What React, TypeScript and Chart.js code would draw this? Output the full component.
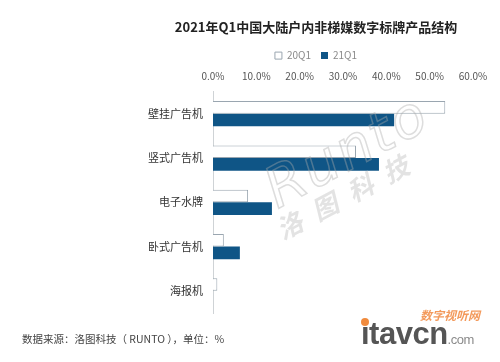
import React, { useEffect, useRef } from "react";
import { Chart, registerables } from "chart.js";

Chart.register(...registerables);

const TITLE = "2021年Q1中国大陆户内非梯媒数字标牌产品结构";
const CATEGORIES = ["壁挂广告机", "竖式广告机", "电子水牌", "卧式广告机", "海报机"];
const SERIES_NAMES = ["20Q1", "21Q1"];
const VALUES_20Q1 = [53.6, 33.0, 8.1, 2.5, 1.0];
const VALUES_21Q1 = [41.8, 38.3, 13.6, 6.2, 0.0];
const X_MIN = 0;
const X_MAX = 60;
const X_STEP = 10;
const SOURCE = "数据来源：洛图科技（ RUNTO ），单位：%";

const FONT = '"Noto Sans CJK SC", "Noto Sans", sans-serif';

const shiftHeader = {
  id: "shiftHeader",
  afterLayout(chart: any) {
    const dx = 6;
    [chart.titleBlock, chart.legend].forEach((b: any) => {
      if (b) {
        b.left += dx;
        b.right += dx;
      }
    });
  },
};

export default function App() {
  const ref = useRef<HTMLCanvasElement | null>(null);

  useEffect(() => {
    if (!ref.current) return;
    Chart.defaults.font.family = FONT;
    const chart = new Chart(ref.current, {
      type: "bar",
      plugins: [shiftHeader],
      data: {
        labels: CATEGORIES,
        datasets: [
          {
            label: SERIES_NAMES[0],
            data: VALUES_20Q1,
            backgroundColor: "#ffffff",
            borderColor: "#9aa6b0",
            borderWidth: 1,
            categoryPercentage: 0.57,
            barPercentage: 1.0,
          },
          {
            label: SERIES_NAMES[1],
            data: VALUES_21Q1,
            backgroundColor: "#0f5586",
            borderColor: "#0f5586",
            borderWidth: 0,
            categoryPercentage: 0.57,
            barPercentage: 1.0,
          },
        ],
      },
      options: {
        indexAxis: "y",
        animation: false,
        responsive: false,
        maintainAspectRatio: false,
        layout: { padding: { left: 147, right: 27, top: 0, bottom: 49 } },
        plugins: {
          title: {
            display: true,
            text: TITLE,
            color: "#222222",
            font: { size: 13, weight: "bold", family: FONT },
            padding: { top: 19, bottom: 6 },
          },
          legend: {
            display: true,
            labels: {
              boxWidth: 7,
              boxHeight: 7,
              padding: 10,
              color: "#8a8a8a",
              font: { size: 10, family: FONT },
            },
          },
          tooltip: { enabled: false },
        },
        scales: {
          x: {
            position: "top",
            min: X_MIN,
            max: X_MAX,
            grid: { display: false, drawTicks: false },
            border: { display: false },
            afterFit: (scale: any) => {
              scale.height = 21;
            },
            ticks: {
              stepSize: X_STEP,
              padding: 9,
              color: "#555555",
              font: { size: 10, family: FONT },
              callback: (v: any) => Number(v).toFixed(1) + "%",
            },
          },
          y: {
            grid: { display: false, drawTicks: false },
            border: { display: true, color: "#cfd3d6", width: 1 },
            afterFit: (scale: any) => {
              scale.width = 66;
            },
            ticks: {
              padding: 10,
              color: "#333333",
              font: { size: 11, family: FONT },
            },
          },
        },
      },
    });
    return () => chart.destroy();
  }, []);

  return (
    <div style={{ position: "absolute", left: 0, top: 0, width: 500, height: 362, background: "#ffffff", overflow: "hidden" }}>
      <canvas ref={ref} width={500} height={362} style={{ position: "absolute", left: 0, top: 0 }} />
      <div
        style={{
          position: "absolute",
          left: 258,
          top: 118,
          transform: "rotate(-28deg)",
          fontFamily: "DejaVu Sans",
          fontStyle: "italic",
          fontSize: 56,
          color: "transparent",
          WebkitTextStroke: "1.5px rgba(170,170,170,0.4)",
          letterSpacing: 2,
          pointerEvents: "none",
        }}
      >
        Runto
      </div>
      <div
        style={{
          position: "absolute",
          left: 268,
          top: 174,
          transform: "rotate(-28deg)",
          fontFamily: FONT,
          fontStyle: "italic",
          fontWeight: "bold",
          fontSize: 26,
          color: "rgba(185,185,185,0.4)",
          letterSpacing: 14,
          pointerEvents: "none",
        }}
      >
        洛图科技
      </div>
      <div
        style={{
          position: "absolute",
          left: 22,
          top: 331,
          fontFamily: FONT,
          fontSize: 10.5,
          color: "#444444",
          whiteSpace: "nowrap",
        }}
      >
        {SOURCE}
      </div>
      <div
        style={{
          position: "absolute",
          left: 420,
          top: 306,
          fontFamily: FONT,
          fontStyle: "italic",
          fontWeight: "bold",
          fontSize: 12,
          color: "#f39a5c",
          whiteSpace: "nowrap",
        }}
      >
        数字视听网
      </div>
      <div
        style={{
          position: "absolute",
          left: 361,
          top: 318,
          fontFamily: "Liberation Sans",
          fontWeight: "bold",
          fontSize: 31,
          lineHeight: "31px",
          color: "#555555",
          whiteSpace: "nowrap",
          letterSpacing: -0.5,
        }}
      >
        itavcn<span style={{ fontSize: 13, fontWeight: "normal", color: "#8a8a8a" }}>.com</span>
      </div>
      <div
        style={{
          position: "absolute",
          left: 361,
          top: 318,
          width: 8,
          height: 8,
          borderRadius: 4,
          background: "#f08a3c",
        }}
      />
    </div>
  );
}
